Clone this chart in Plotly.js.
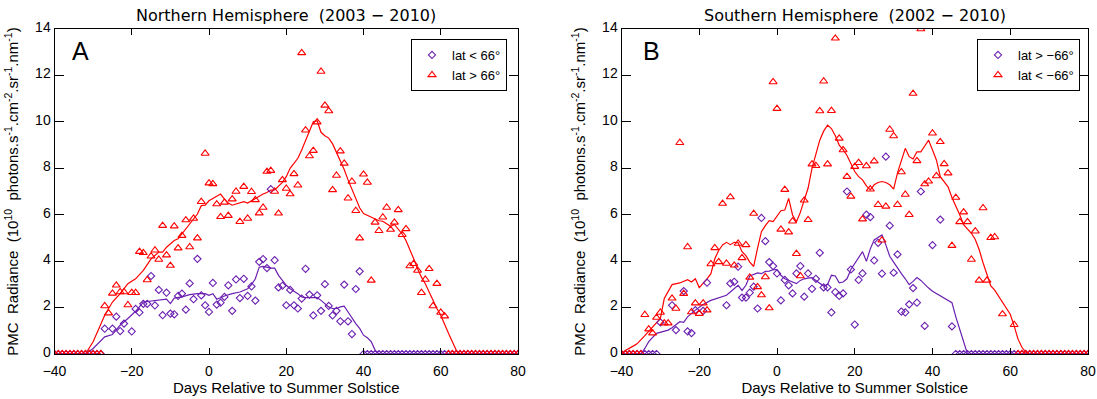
<!DOCTYPE html>
<html>
<head>
<meta charset="utf-8">
<script src="https://cdn.plot.ly/plotly-3.0.1.min.js"></script>
<style>html,body{margin:0;padding:0;background:#fff;}#chart{width:1097px;height:399px;}</style>
</head>
<body>
<div id="chart"></div>
<script>
// ---------------- Northern Hemisphere (panel A) ----------------
const nLowDays = [-27,-25,-24,-23,-22,-20,-19,-18,-17,-16,-15,-14,-13,-12,-11,-10,-9,-8,-7,-6,-5,-4,-3,-2,-1,0,1,2,3,4,5,6,7,8,9,10,11,12,13,14,15,16,17,18,19,20,21,22,23,24,25,26,27,28,29,30,31,32,33,34,35,36,37,38,39];
const nLowVals = [1.09,1.09,1.61,0.99,1.31,0.97,1.94,1.79,2.16,2.16,3.36,2.09,2.76,1.67,2.64,1.74,1.71,2.5,2.6,1.91,3.04,2.36,4.1,2.53,2.1,1.81,3.06,2.13,2.21,2.46,2.96,1.86,3.21,2.41,3.24,2.5,2.91,2.3,3.97,4.09,3.7,7.1,4.04,2.87,2.94,2.1,2.76,2.1,1.96,2.39,3.67,2.56,1.66,2.53,1.86,3.01,2.07,1.66,1.86,1.41,2.99,1.41,0.86,2.8,3.56];
const nLowZeroDays = [-40,-39,-38,-37,-36,-35,-34,-33,-32,-31,-30,-29,-28,40,41,42,43,44,45,46,47,48,49,50,51,52,53,54,55,56,57,58,59,60,61,62,63,64,65,66,67,68,69,70,71,72,73,74,75,76,77,78,79,80];
const nLowZeroVals = [0,0,0,0,0,0,0,0,0,0,0,0,0,0,0,0,0,0,0,0,0,0,0,0,0,0,0,0,0,0,0,0,0,0,0,0,0,0,0,0,0,0,0,0,0,0,0,0,0,0,0,0,0,0];

const nHighDays = [-27,-26,-25,-24,-23,-22,-21,-20,-19,-18,-17,-16,-15,-14,-13,-12,-11,-10,-9,-8,-7,-6,-5,-4,-3,-2,-1,0,1,2,3,4,5,6,7,8,9,10,11,12,13,14,15,16,17,18,19,20,21,22,23,24,25,26,27,28,29,30,31,32,33,34,35,36,37,38,39,40,41,42,43,44,45,46,47,48,49,50,51,52,53,54,55,56,57,58,59,60,61];
const nHighVals = [2.07,1.76,2.61,2.96,2.67,2.67,2.11,2.64,2.64,4.41,4.36,3.19,4.21,4.47,4.07,5.53,4.26,3.81,5.51,4.56,5.1,5.77,4.61,5.84,4.99,6.56,8.64,7.36,7.33,6.46,5.91,6.53,5.96,6.67,7.0,5.7,7.21,5.84,6.99,6.64,6.07,6.31,7.86,7.9,7.0,6.06,7.5,7.13,6.89,7.76,7.27,12.97,9.64,8.53,8.76,9.99,12.17,10.71,10.47,7.07,7.69,8.74,8.21,6.71,7.43,6.17,4.99,7.74,7.39,3.17,5.67,5.31,5.89,6.31,5.36,5.67,6.21,5.14,5.39,3.79,3.89,3.6,2.64,3.21,3.67,2.07,3.03,1.79,1.63];
const nHighZeroDays = [-40,-39,-38,-37,-36,-35,-34,-33,-32,-31,-30,-29,-28,62,63,64,65,66,67,68,69,70,71,72,73,74,75,76,77,78,79,80];
const nHighZeroVals = [0,0,0,0,0,0,0,0,0,0,0,0,0,0,0,0,0,0,0,0,0,0,0,0,0,0,0,0,0,0,0,0];

const nLowLineDays = [-40,-32,-30,-27,-25,-23,-21,-19,-17,-15,-13,-11,-10,-9,-7,-5,-3,-1,0,1,2,4,6,8,10,11,12,13,14,16,17,18,20,21,23,24,25,26,28,29,30,31,32,33,34,35,36,37,38,39,40,41,42,43,44,80];
const nLowLineVals = [0,0,0.24,0.74,0.84,1.24,1.53,1.84,2.24,2.29,2.31,2.36,2.17,2.41,2.46,2.56,2.6,2.6,2.53,2.6,2.36,2.5,2.6,2.67,2.81,2.99,3.24,3.74,3.77,3.7,3.7,3.39,2.96,2.81,2.6,2.46,2.43,2.43,2.43,2.31,2.17,2.03,1.96,1.96,2.03,2.06,1.81,1.53,1.31,1.1,0.81,0.7,0.53,0.17,0,0];

const nHighLineDays = [-40,-32,-30,-28,-27,-25,-23,-21,-19,-17,-15,-13,-12,-11,-9,-8,-7,-5,-3,-2,-1,0,1,2,3,4,5,6,7,9,10,11,12,13,14,15,16,17,18,19,20,21,22,23,24,25,26,27,28,29,30,31,32,33,34,35,36,37,38,39,40,41,42,43,44,45,46,47,48,49,50,51,52,53,54,55,56,57,58,59,60,61,62,63,64,65,80];
const nHighLineVals = [0,0,0.53,1.24,1.67,2.24,2.6,3.03,3.24,3.6,4.1,4.39,4.39,4.6,4.89,4.96,5.17,5.6,6.03,6.39,6.41,6.6,6.7,6.81,6.89,6.67,6.5,6.41,6.46,6.56,6.5,6.6,6.7,6.79,6.89,6.96,7.06,7.07,7.21,7.39,7.64,8.0,8.21,8.43,8.79,9.21,9.64,10.0,10.05,9.55,9.4,9.3,9.05,8.7,8.35,7.95,7.5,7.1,6.7,6.3,6.05,5.98,5.9,5.82,5.74,5.72,5.62,5.5,5.58,5.39,5.17,4.89,4.53,4.1,3.67,3.31,3.03,2.67,2.31,1.96,1.67,1.24,0.89,0.53,0.17,0,0];

// ---------------- Southern Hemisphere (panel B) ----------------
const sLowDays = [-30,-27,-26,-24,-23,-22,-21,-19,-18,-13,-12,-11,-10,-9,-8,-7,-6,-5,-4,-3,-2,-1,0,1,2,3,4,5,6,7,8,9,10,11,12,13,14,15,16,17,18,19,20,21,22,23,24,25,26,27,28,29,30,31,32,33,34,35,36,37,38,40,42,45];
const sLowVals = [1.36,2.1,1.03,2.71,0.97,0.9,1.89,1.86,3.07,2.1,3.04,3.11,3.76,2.43,2.43,2.64,2.9,1.96,5.86,4.86,3.96,3.79,3.47,2.31,3.19,2.96,2.61,3.47,3.79,2.47,3.47,2.81,3.24,4.36,2.87,2.87,1.79,2.67,2.5,2.61,7.0,3.64,1.27,3.19,3.47,6.0,5.9,4.03,4.79,3.46,8.5,5.53,3.5,4.29,1.83,1.79,2.14,2.84,2.21,7.0,1.21,4.69,5.79,1.19];
const sLowZeroDays = [-40,-39,-38,-37,-36,-35,-34,-33,-32,-31,46,47,48,49,50,51,52,53,54,55,56,57,58,59,60,61,62,63,64,65,66,67,68,69,70,71,72,73,74,75,76,77,78,79,80];
const sLowZeroVals = [0,0,0,0,0,0,0,0,0,0,0,0,0,0,0,0,0,0,0,0,0,0,0,0,0,0,0,0,0,0,0,0,0,0,0,0,0,0,0,0,0,0,0,0,0];

const sHighDays = [-34,-33,-32,-31,-30,-29,-28,-27,-26,-25,-24,-23,-22,-21,-20,-19,-18,-17,-16,-15,-14,-13,-12,-11,-10,-9,-8,-7,-6,-5,-4,-3,-2,-1,0,1,2,3,4,5,6,7,8,9,10,11,12,13,14,15,16,17,18,19,20,21,22,23,24,25,26,27,28,29,30,31,32,33,34,35,36,37,38,39,40,41,42,43,44,45,46,47,48,49,50,51,52,53,54,55,56,58,61];
const sHighVals = [1.69,1.07,0.9,1.57,1.79,1.33,1.33,2.4,1.96,9.1,2.6,4.61,1.81,2.19,1.74,2.19,1.89,3.88,4.57,3.97,6.48,3.9,6.76,3.82,4.76,4.14,4.7,3.3,6.05,2.89,2.54,3.32,1.98,11.72,10.57,5.37,7.08,5.25,5.72,4.32,3.36,6.62,5.78,8.18,8.11,10.47,11.75,8.18,10.48,13.6,9.29,8.79,7.64,6.79,8.07,8.24,5.81,8.1,7.1,8.31,6.43,4.9,6.36,9.67,9.39,6.43,7.84,6.87,6.0,11.22,8.32,14.0,7.32,7.44,9.51,7.67,9.14,8.19,7.79,4.67,6.74,5.69,6.11,5.69,4.07,5.29,3.17,6.29,3.17,5.01,5.04,1.72,1.26];
const sHighZeroDays = [-40,-39,-38,-37,-36,-35,62,63,64,65,66,67,68,69,70,71,72,73,74,75,76,77,78,79,80];
const sHighZeroVals = [0,0,0,0,0,0,0,0,0,0,0,0,0,0,0,0,0,0,0,0,0,0,0,0,0];

const sLowLineDays = [-40,-35,-34,-33,-31,-30,-28,-27,-25,-24,-23,-21,-19,-17,-15,-13,-12,-11,-10,-9,-8,-7,-6,-5,-4,-3,-2,-1,0,1,2,3,4,5,6,7,8,9,10,11,12,13,14,15,16,17,18,19,20,21,22,23,24,25,26,27,28,29,30,31,32,33,34,35,36,37,38,39,40,41,42,43,44,45,46,47,48,49,80];
const sLowLineVals = [0,0,0.24,0.53,0.89,0.93,1.03,1.13,1.39,1.36,1.6,1.89,2.13,2.31,2.41,2.53,2.67,2.81,2.96,2.74,2.96,3.36,3.43,3.49,3.46,3.56,3.57,3.63,3.64,3.39,3.24,3.17,3.1,3.03,3.17,3.24,3.27,3.29,3.17,3.03,2.93,2.99,3.39,3.36,3.07,3.1,3.24,3.64,3.89,4.17,4.41,3.99,4.53,4.91,5.03,5.13,4.7,4.21,3.96,3.7,3.46,3.24,2.99,3.13,3.29,3.17,2.99,2.84,2.7,2.6,2.5,2.39,2.31,2.21,1.6,1.1,0.6,0,0];

const sHighLineDays = [-40,-39,-37,-36,-34,-32,-31,-30,-29,-28,-27,-25,-23,-22,-21,-20,-19,-18,-17,-16,-15,-14,-13,-12,-11,-10,-9,-8,-7,-6,-5,-4,-3,-2,-1,0,1,2,3,4,5,6,7,8,9,10,11,12,13,14,15,16,17,18,19,20,21,22,23,24,25,26,27,28,29,30,31,32,33,34,35,36,37,38,39,40,41,42,43,44,45,46,47,48,49,50,51,52,53,54,55,56,57,58,59,60,61,62,63,64,65,80];
const sHighLineVals = [0,0.15,0.34,0.44,0.79,1.14,1.36,1.53,2.39,2.67,2.99,3.06,3.2,3.1,3.24,2.86,3.03,3.24,3.46,4.1,4.46,4.7,4.81,4.71,4.81,4.79,4.41,4.24,3.96,3.77,4.56,5.27,5.53,5.74,5.7,5.93,6.17,6.2,6.7,5.99,5.7,6.1,6.6,7.15,8.0,8.6,9.21,9.6,9.86,9.71,9.4,9.0,8.8,8.55,8.2,7.86,7.64,7.5,7.24,7.07,7.29,7.39,7.43,7.39,7.29,7.1,7.8,8.3,8.86,8.5,8.4,8.71,8.71,8.96,9.21,8.79,8.36,7.64,7.43,7.2,6.74,6.39,6.0,5.57,5.4,5.2,4.93,4.5,3.93,3.4,2.93,2.75,2.5,2.25,2.0,1.71,1.21,0.64,0.29,0.07,0,0];

const xTicks = [-40,-20,0,20,40,60,80];
const yTicks = [0,2,4,6,8,10,12,14];

// ---------------- styling ----------------
const PURPLE = '#6a1fb0';
const RED = '#ff0000';
const FONT = 'Liberation Sans, Arial, sans-serif';
const TFONT = 'DejaVu Sans, Liberation Sans, sans-serif';

function lineTrace(x, y, color, xa, ya) {
  return {x: x, y: y, type: 'scatter', mode: 'lines', xaxis: xa, yaxis: ya,
          line: {color: color, width: 1.2}, showlegend: false, hoverinfo: 'skip'};
}
function pointTrace(x, y, color, symbol, size, name, xa, ya, leg) {
  return {x: x, y: y, type: 'scatter', mode: 'markers', xaxis: xa, yaxis: ya, name: name,
          legend: leg,
          marker: {symbol: symbol, size: size, color: color, line: {color: color, width: 1.1}}};
}

const data = [
  lineTrace(nHighLineDays, nHighLineVals, RED, 'x', 'y'),
  lineTrace(nLowLineDays, nLowLineVals, PURPLE, 'x', 'y'),
  pointTrace(nLowZeroDays.concat(nLowDays), nLowZeroVals.concat(nLowVals), PURPLE, 'diamond-open', 5.5, 'lat < 66°', 'x', 'y', 'legend'),
  pointTrace(nHighZeroDays.concat(nHighDays), nHighZeroVals.concat(nHighVals), RED, 'triangle-up-open', 7, 'lat > 66°', 'x', 'y', 'legend'),
  lineTrace(sHighLineDays, sHighLineVals, RED, 'x2', 'y2'),
  lineTrace(sLowLineDays, sLowLineVals, PURPLE, 'x2', 'y2'),
  pointTrace(sLowZeroDays.concat(sLowDays), sLowZeroVals.concat(sLowVals), PURPLE, 'diamond-open', 5.5, 'lat > \u221266°', 'x2', 'y2', 'legend2'),
  pointTrace(sHighZeroDays.concat(sHighDays), sHighZeroVals.concat(sHighVals), RED, 'triangle-up-open', 7, 'lat < \u221266°', 'x2', 'y2', 'legend2')
];

const W = 1097, H = 399;
const yDom = [1 - 354 / H, 1 - 29 / H];
const xDom1 = [54.5 / W, 518 / W];
const xDom2 = [621.5 / W, 1088 / W];
const sp = '\u00a0';

function xAxis(dom, anchor) {
  return {domain: dom, anchor: anchor, range: [-40, 80], tickvals: xTicks, ticks: 'inside', ticklen: 6,
          tickcolor: '#000', tickwidth: 1, mirror: 'ticks', showline: true, linecolor: '#000', linewidth: 1,
          showgrid: false, zeroline: false, tickfont: {family: FONT, size: 14, color: '#000'}, ticklabelstandoff: 4,
          title: {text: 'Days Relative to Summer Solstice', font: {family: FONT, size: 15, color: '#000'}, standoff: 1}};
}
function yAxis(dom, anchor) {
  return {domain: dom, anchor: anchor, range: [0, 14], tickvals: yTicks, ticks: 'inside', ticklen: 9,
          tickcolor: '#000', tickwidth: 1, mirror: 'ticks', showline: true, linecolor: '#000', linewidth: 1,
          showgrid: false, zeroline: false, tickfont: {family: FONT, size: 14, color: '#000'}, ticklabelshift: -2,
          title: {text: 'PMC' + sp + sp + 'Radiance' + sp + sp + '(10<sup>10</sup>' + sp + sp + 'photons.s<sup>-1</sup>.cm<sup>-2</sup>.sr<sup>-1</sup>.nm<sup>-1</sup>)',
                  font: {family: FONT, size: 15, color: '#000'}, standoff: 12}};
}

const layout = {
  width: W, height: H, margin: {l: 0, r: 0, t: 0, b: 0},
  paper_bgcolor: '#fff', plot_bgcolor: '#fff', showlegend: true,
  font: {family: FONT, size: 14, color: '#000'},
  xaxis: xAxis(xDom1, 'y'), yaxis: yAxis(yDom, 'x'),
  xaxis2: xAxis(xDom2, 'y2'), yaxis2: yAxis(yDom, 'x2'),
  legend: {x: 507 / W, xanchor: 'right', y: 1 - 39 / H, yanchor: 'top', bgcolor: '#fff',
           bordercolor: '#000', borderwidth: 1, font: {family: FONT, size: 13, color: '#000'}, tracegroupgap: 0},
  legend2: {x: 1080 / W, xanchor: 'right', y: 1 - 39 / H, yanchor: 'top', bgcolor: '#fff',
            bordercolor: '#000', borderwidth: 1, font: {family: FONT, size: 13, color: '#000'}, tracegroupgap: 0},
  annotations: [
    {text: 'Northern' + sp + 'Hemisphere' + sp + sp + '(2003' + sp + '\u2212' + sp + '2010)', xref: 'paper', yref: 'paper',
     x: (xDom1[0] + xDom1[1]) / 2, y: 1 - 15 / H, xanchor: 'center', yanchor: 'middle', showarrow: false,
     font: {family: TFONT, size: 16, color: '#000'}},
    {text: 'Southern' + sp + 'Hemisphere' + sp + sp + '(2002' + sp + '\u2212' + sp + '2010)', xref: 'paper', yref: 'paper',
     x: (xDom2[0] + xDom2[1]) / 2, y: 1 - 15 / H, xanchor: 'center', yanchor: 'middle', showarrow: false,
     font: {family: TFONT, size: 16, color: '#000'}},
    {text: 'A', xref: 'paper', yref: 'paper', x: 80 / W, y: 1 - 51 / H, xanchor: 'center', yanchor: 'middle',
     showarrow: false, font: {family: FONT, size: 25, color: '#000'}},
    {text: 'B', xref: 'paper', yref: 'paper', x: 651 / W, y: 1 - 51 / H, xanchor: 'center', yanchor: 'middle',
     showarrow: false, font: {family: FONT, size: 25, color: '#000'}}
  ]
};

Plotly.newPlot('chart', data, layout, {displayModeBar: false, staticPlot: true});
</script>
</body>
</html>
